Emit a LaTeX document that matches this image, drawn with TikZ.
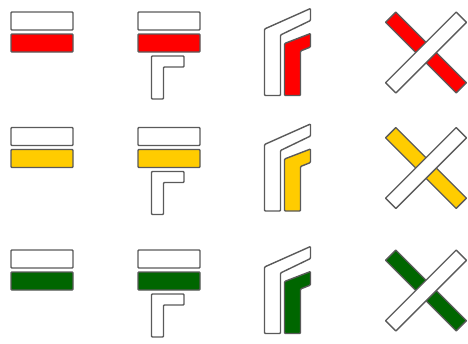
\documentclass[tikz,border=0pt]{standalone}
\definecolor{cred}{HTML}{FF0000}
\definecolor{cyel}{HTML}{FFCC00}
\definecolor{cgrn}{HTML}{006600}
\definecolor{edge}{HTML}{5A5A5A}
\begin{document}
\begin{tikzpicture}[x=1pt,y=-1pt,
  part/.style={draw=edge, line width=1.4pt, rounded corners=0.9pt},
  bar/.style={part, inner sep=0pt, outer sep=0pt, minimum width=62pt, minimum height=18pt, anchor=north west},
  xbar/.style={draw=edge, line width=1.4pt, rounded corners=0.6pt, inner sep=0pt, outer sep=0pt, minimum width=100pt, minimum height=14.5pt}]
\useasboundingbox (0,0) rectangle (468,343);
\foreach \dy/\col/\n in {0/cred/a, 115.5/cyel/b, 238/cgrn/c}{
  \begin{scope}[yshift=-\dy pt]
    % column 1
    \node[bar, fill=white] (w1\n) at (11,12) {};
    \node[bar, fill=\col] (c1\n) at (11,34) {};
    % column 2
    \node[bar, fill=white] (w2\n) at (138,12) {};
    \node[bar, fill=\col] (c2\n) at (138,34) {};
    \draw[part, fill=white] (151.5,56) -- (184,56) -- (184,67) -- (163.5,67) -- (163.5,99) -- (151.5,99) -- cycle;
    % column 3
    \draw[part, fill=white] (264.5,29) -- (310.5,8.5) -- (310.5,20.5) -- (280.5,35) -- (280.5,95.5) -- (264.5,95.5) -- cycle;
    \draw[part, fill=\col] (284.5,43.5) -- (310.5,33.5) -- (310.5,47) -- (300.5,51) -- (300.5,95.5) -- (284.5,95.5) -- cycle;
    % column 4
    \node[xbar, fill=\col, rotate=-45] (xc\n) at (426,52.5) {};
    \node[xbar, fill=white, rotate=45] (xw\n) at (426,52.5) {};
  \end{scope}
}
\end{tikzpicture}
\end{document}
